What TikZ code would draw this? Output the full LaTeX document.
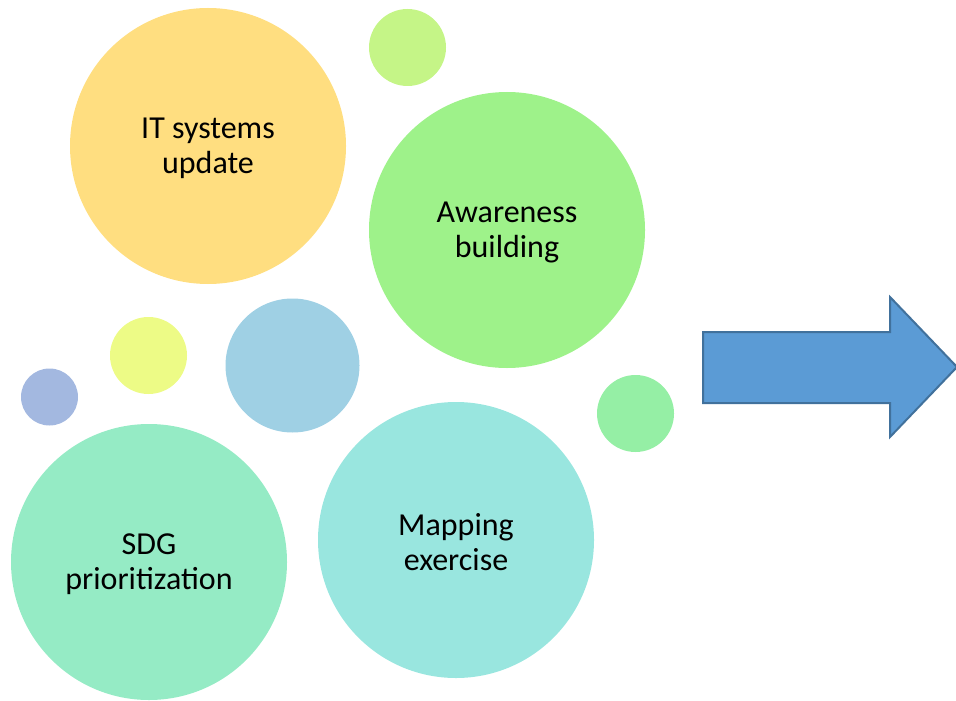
\documentclass[tikz,border=0pt]{standalone}
\usepackage{fontspec}
\setmainfont{Carlito}
\usetikzlibrary{positioning}

\definecolor{itYellow}{HTML}{FFDE80}
\definecolor{awGreen}{HTML}{9EF28A}
\definecolor{limeDot}{HTML}{C5F587}
\definecolor{yellowDot}{HTML}{EDFB86}
\definecolor{skyBlue}{HTML}{9FD0E4}
\definecolor{lilacDot}{HTML}{A3B8E0}
\definecolor{mintDot}{HTML}{95EFA5}
\definecolor{sdgGreen}{HTML}{95EBC5}
\definecolor{mapTeal}{HTML}{99E6DF}
\definecolor{arrowFill}{HTML}{5B9BD5}
\definecolor{arrowLine}{HTML}{41719C}

\begin{document}
\begin{tikzpicture}[x=0.5pt, y=-0.5pt,
			bubble/.style={circle, inner sep=0pt, align=center, text=black,
				font=\fontsize{16pt}{17.5pt}\selectfont},
			label text/.style={align=center, text=black, yshift=-1pt,
				font=\fontsize{16pt}{17.5pt}\selectfont}]
			\useasboundingbox (0,0) rectangle (956,700);
			% big circles
			\node[bubble, fill=itYellow, minimum size=138pt](it) at (208,146){};
			\node[bubble, fill=awGreen, minimum size=138pt](awareness) at (507,230){};
			\node[bubble, fill=sdgGreen, minimum size=138pt](sdg) at (149,562){};
			\node[bubble, fill=mapTeal, minimum size=138pt](mapping) at (456,540){};
			% labels
			\node[label text](itText) at (it){IT systems\\update};
			\node[label text](awarenessText) at (awareness){Awareness\\building};
			\node[label text](sdgText) at (sdg){SDG\\prioritization};
			\node[label text](mappingText) at (mapping){Mapping\\exercise};
			% small dots
			\node[bubble, fill=limeDot, minimum size=38.5pt](lime) at (407.5,47.5){};
			\node[bubble, fill=yellowDot, minimum size=38.5pt](yellow) at (148.5,355.5){};
			\node[bubble, fill=skyBlue, minimum size=67pt](sky) at (292.5,365.5){};
			\node[bubble, fill=lilacDot, minimum size=28.5pt](lilac) at (49.5,397){};
			\node[bubble, fill=mintDot, minimum size=38.5pt](mint) at (635.5,413.5){};
			% block arrow
			\path[draw=arrowLine, fill=arrowFill, line width=1pt, line join=miter]
				(703,332) -- (890,332) -- (890,297) -- (957,367) -- (890,437)
				-- (890,403) -- (703,403) -- cycle;
	\end{tikzpicture}
\end{document}
